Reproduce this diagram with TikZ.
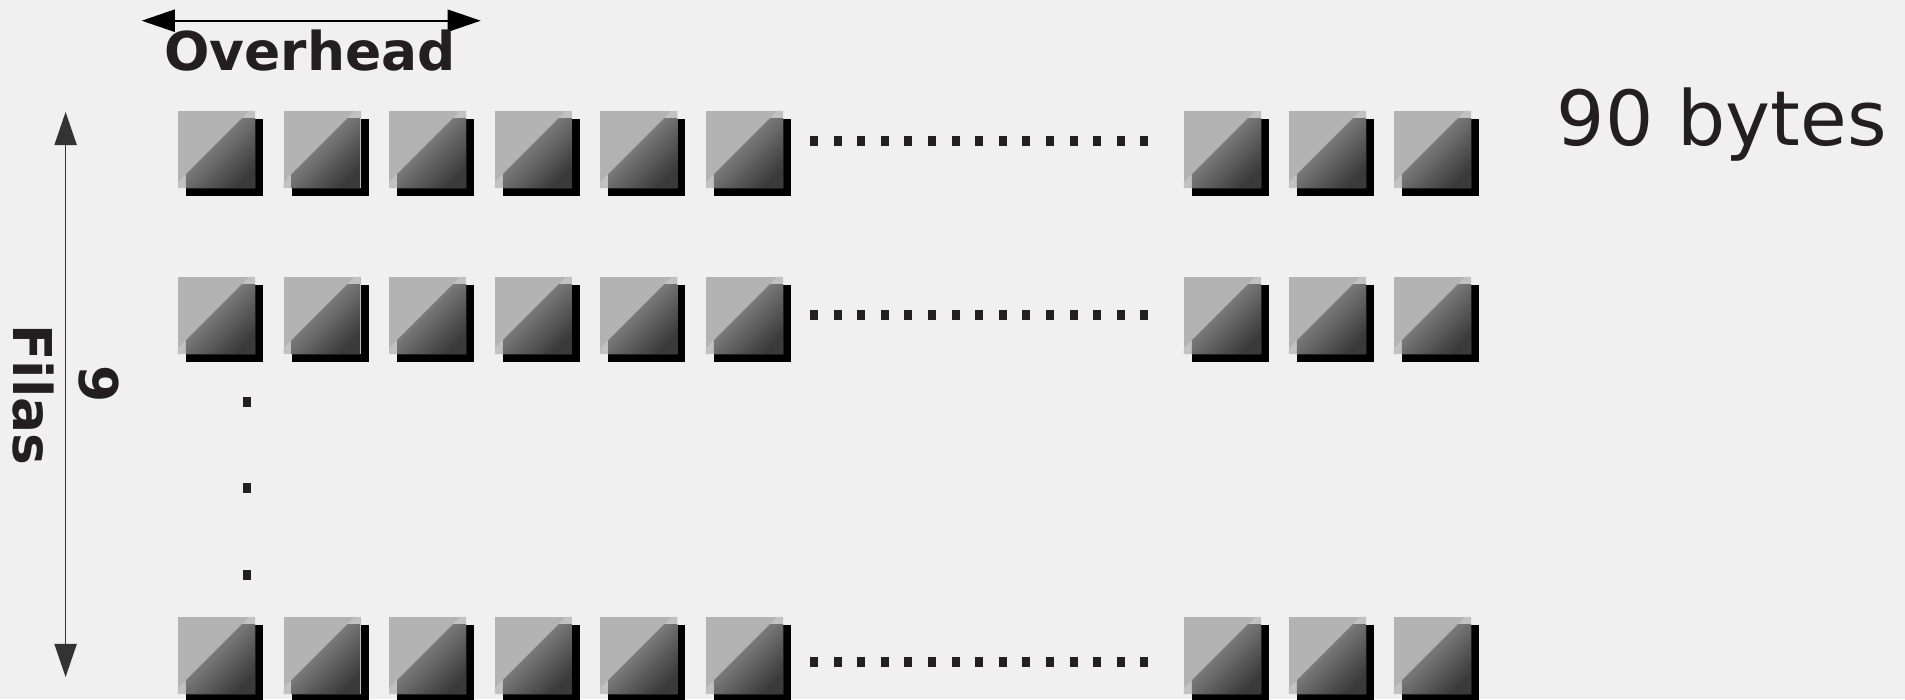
\documentclass[tikz,border=0pt]{standalone}
\usepackage{fontspec}
\setmainfont{DejaVu Sans}
\usetikzlibrary{arrows.meta,shadows}
\definecolor{bg}{HTML}{F0F0F0}
\definecolor{ink}{HTML}{231F20}
\definecolor{boxgray}{HTML}{B3B3B3}
\definecolor{striplight}{HTML}{C2C2C2}
\definecolor{shadelight}{HTML}{9C9C9C}
\definecolor{shadedark}{HTML}{3A3A3A}

\begin{document}
\begin{tikzpicture}[x=0.01cm,y=-0.01cm,
  byte/.style={minimum size=0.77cm,inner sep=0pt,fill=boxgray,
    drop shadow={shadow xshift=0.08cm,shadow yshift=-0.08cm,fill=black,opacity=1},
    path picture={
      \fill[striplight] ([yshift=0.06cm]path picture bounding box.south west)
        -- ([xshift=-0.06cm]path picture bounding box.north east)
        -- (path picture bounding box.north east)
        -- (path picture bounding box.south east)
        -- (path picture bounding box.south west) -- cycle;
      \begin{scope}
        \clip ([yshift=0.06cm]path picture bounding box.south west)
          -- ([xshift=-0.06cm]path picture bounding box.north east)
          -- (path picture bounding box.north east)
          -- (path picture bounding box.south east)
          -- (path picture bounding box.south west) -- cycle;
        \shade[top color=shadelight,bottom color=shadedark,shading angle=45]
          ([xshift=0.08cm]path picture bounding box.south west)
          rectangle ([yshift=-0.08cm]path picture bounding box.north east);
      \end{scope}
    }},
  label/.style={text=ink,font=\fontsize{15.2}{18}\selectfont\bfseries},
  tip/.style={{Triangle[length=9.4pt,width=6.3pt]}-{Triangle[length=9.4pt,width=6.3pt]}}]
  \fill[bg] (0,0) rectangle (1905,699);
  \useasboundingbox (0,0) rectangle (1905,699);

  % the rows of bytes
  \foreach \r/\y in {1/149.5,2/315.5,3/655.5}{
    \foreach \c in {0,...,5}
      \node[byte] (b\r-\c) at ({216.5+105.6*\c},\y) {};
    \foreach \c in {0,1,2}
      \node[byte] (e\r-\c) at ({1222.5+105*\c},\y) {};
  }

  % dots between
  \foreach \y in {141,315,662}
    \foreach \i in {0,...,14}
      \fill[ink] ({810+23.6*\i},\y-5) rectangle +(8,10);
  \foreach \y in {402,488,575}
    \fill[ink] (243,\y-5) rectangle +(8,10);

  % overhead
  \coordinate (ohl) at (141.7,20.7);
  \coordinate (ohr) at (480.7,20.7);
  \draw[tip,line width=0.5pt] (ohl) -- (ohr);
  \node[label,anchor=base] (oh) at (310,70) {Overhead};

  % rows
  \coordinate (ftop) at (65.6,112);
  \coordinate (fbot) at (65.6,677);
  \draw[tip,line width=0.45pt,black!80] (ftop) -- (fbot);
  \node[label,rotate=-90,anchor=base] (nine) at (80,384.5) {9};
  \node[label,rotate=-90,anchor=base] (filas) at (14,395) {Filas};

  \node[text=ink,font=\fontsize{21.6}{26}\selectfont,anchor=base] (bytes) at (1722,145) {90 bytes};
\end{tikzpicture}
\end{document}
